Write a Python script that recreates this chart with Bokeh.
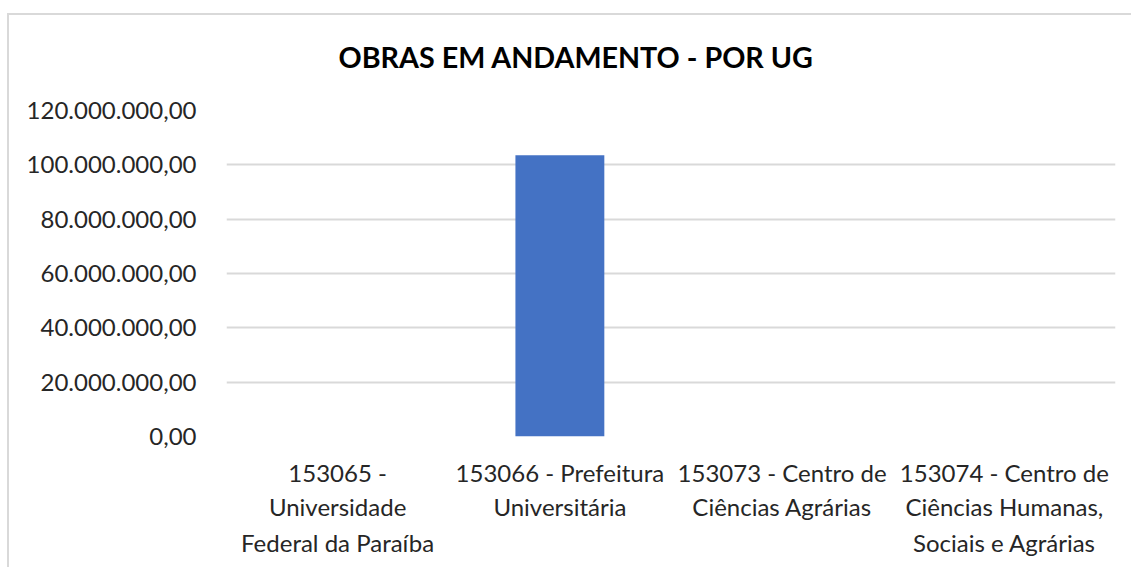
from bokeh.plotting import figure
from bokeh.models import (FixedTicker, CustomJSTickFormatter, Range1d, LinearAxis, Title)
from bokeh.embed import file_html
from bokeh.resources import INLINE

categories = [
    "153065 -\nUniversidade\nFederal da Paraíba",
    "153066 - Prefeitura\nUniversitária",
    "153073 - Centro de\nCiências Agrárias",
    "153074 - Centro de\nCiências Humanas,\nSociais e Agrárias",
]
values = [0, 103500000, 0, 0]
y_ticks = [0, 20000000, 40000000, 60000000, 80000000, 100000000, 120000000]
title_text = "OBRAS EM ANDAMENTO - POR UG"

FONT = "Lato"
GRID = "#d9d9d9"
TXT = "#262626"

n = len(categories)
# category k occupies the unit slot [k, k+1] of the x axis
slot_centers = [k + 0.5 for k in range(n)]

p = figure(
    x_range=Range1d(0, n),
    y_range=Range1d(0, 120000000),
    width=1131, height=567,
    output_backend="svg", toolbar_location=None,
    min_border_left=226, min_border_right=16,
    min_border_top=110, min_border_bottom=131,
)
p.outline_line_color = None
p.background_fill_color = "white"
p.border_fill_color = None
p.styles = {
    "background": (
        f"linear-gradient({GRID},{GRID}) 7px 13px / 2px 100% no-repeat, "
        f"linear-gradient({GRID},{GRID}) 7px 13px / 100% 2px no-repeat, white"
    )
}

p.vbar(x=slot_centers, top=values, width=0.4, fill_color="#4472C4", line_color=None)

p.xgrid.grid_line_color = None
p.ygrid.grid_line_color = GRID
p.ygrid.grid_line_width = 2
p.ygrid.ticker = FixedTicker(ticks=y_ticks)

p.yaxis.ticker = FixedTicker(ticks=y_ticks)
p.yaxis.formatter = CustomJSTickFormatter(code="""
const parts = tick.toFixed(2).split('.');
const ip = parts[0].replace(/\\B(?=(\\d{3})+(?!\\d))/g, '.');
return ip + ',' + parts[1];
""")
p.yaxis.axis_line_color = None
p.yaxis.major_tick_line_color = None
p.yaxis.minor_tick_line_color = None
p.yaxis.major_label_standoff = 24
p.yaxis.major_label_text_font = FONT
p.yaxis.major_label_text_font_size = "24px"
p.yaxis.major_label_text_color = TXT

# the 0 grid line already draws the baseline; the default x axis is hidden
p.xaxis[0].visible = False

# one axis per text line of the category labels
lines = [c.split("\n") for c in categories]
standoffs = [15, -4, -2]
for i in range(3):
    ticks = [slot_centers[k] for k, l in enumerate(lines) if i < len(l)]
    labels = {str(k): l[i] for k, l in enumerate(lines) if i < len(l)}
    ax = LinearAxis(
        ticker=FixedTicker(ticks=ticks, minor_ticks=[]),
        formatter=CustomJSTickFormatter(args=dict(labels=labels),
                                        code="return labels[String(Math.floor(tick))];"),
        axis_line_color=None, major_tick_line_color=None, minor_tick_line_color=None,
        major_label_standoff=standoffs[i], major_label_text_font=FONT,
        major_label_text_font_size="24px", major_label_text_color=TXT,
        major_label_text_line_height=1.0,
    )
    p.add_layout(ax, "below")

t = Title(text=title_text, align="left", offset=112, vertical_align="bottom",
          standoff=74, text_font=FONT, text_font_style="bold",
          text_font_size="28.7px", text_color="black")
p.add_layout(t, "above")

open("out.html", "w").write(file_html(p, INLINE))
